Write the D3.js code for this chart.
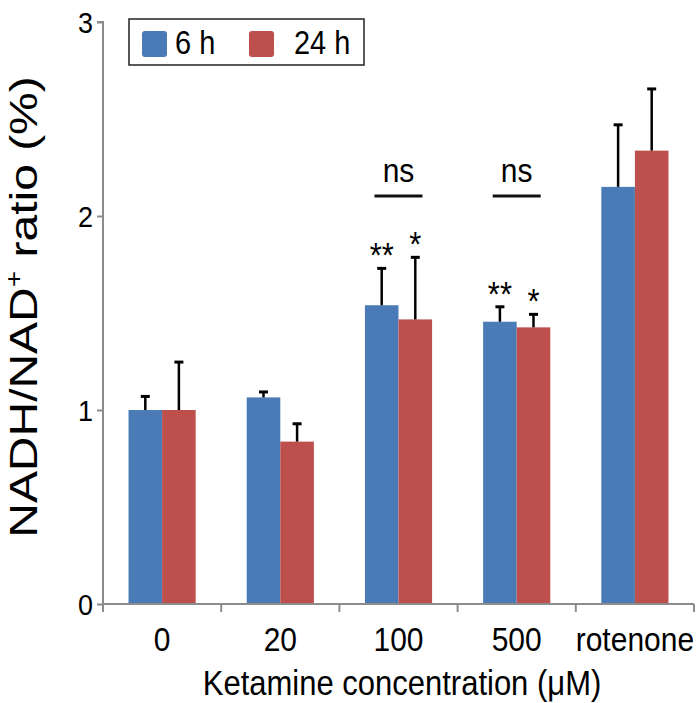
<!DOCTYPE html>
<html>
<head>
<meta charset="utf-8">
<script src="https://cdn.jsdelivr.net/npm/d3@7"></script>
<style>
  html, body { margin: 0; padding: 0; background: #fff; }
  svg text { font-family: "Liberation Sans", Arial, sans-serif; fill: #000; }
</style>
</head>
<body>
<svg id="chart" width="700" height="703"></svg>
<script>
const categories = ["0", "20", "100", "500", "rotenone"];
const seriesNames = ["6 h", "24 h"];
const values6h = [1.00, 1.065, 1.54, 1.455, 2.15];
const errors6h = [0.07, 0.028, 0.19, 0.077, 0.32];
const values24h = [1.00, 0.837, 1.467, 1.426, 2.337];
const errors24h = [0.247, 0.092, 0.32, 0.067, 0.318];
const yTicks = [0, 1, 2, 3];
const stars6h = ["", "", "**", "**", ""];
const stars24h = ["", "", "*", "*", ""];
const nsGroups = ["100", "500"];
const colors = ["#4a7bb7", "#bd4f4c"];

const svg = d3.select("#chart");
const x0 = 103, x1 = 694, yBottom = 604, yTop = 22;
const SY = 1.12; // vertical stretch of glyphs

const x = d3.scaleBand().domain(categories).range([x0, x1]).paddingInner(0).paddingOuter(0);
const xs = d3.scaleBand().domain(seriesNames).range([0, x.bandwidth()]).paddingInner(0).paddingOuter(0.76);
const y = d3.scaleLinear().domain([0, 3]).range([yBottom, yTop]);

function stext(px, py, size, str, anchor) {
  return svg.append("text")
    .attr("transform", `translate(${px},${py}) scale(1,${SY})`)
    .attr("text-anchor", anchor || "middle").attr("font-size", size).text(str);
}

const series = [
  { name: seriesNames[0], vals: values6h, errs: errors6h, stars: stars6h, color: colors[0] },
  { name: seriesNames[1], vals: values24h, errs: errors24h, stars: stars24h, color: colors[1] }
];

// bars
series.forEach(s => {
  svg.append("g").selectAll("rect").data(categories).join("rect")
    .attr("x", d => x(d) + xs(s.name))
    .attr("width", xs.bandwidth())
    .attr("y", (d, i) => y(s.vals[i]))
    .attr("height", (d, i) => y(0) - y(s.vals[i]))
    .attr("fill", s.color);
});

// error bars (upper only) and significance stars
series.forEach(s => {
  const g = svg.append("g").attr("stroke", "#000").attr("stroke-width", 2.5);
  categories.forEach((c, i) => {
    const cx = x(c) + xs(s.name) + xs.bandwidth() / 2;
    const top = y(s.vals[i] + s.errs[i]);
    g.append("line").attr("x1", cx).attr("x2", cx).attr("y1", y(s.vals[i])).attr("y2", top);
    g.append("line").attr("x1", cx - 4.5).attr("x2", cx + 4.5).attr("y1", top).attr("y2", top).attr("stroke-width", 3);
    if (s.stars[i]) stext(cx, top - 1, 31, s.stars[i]);
  });
});

// ns brackets
nsGroups.forEach(c => {
  const cx = x(c) + x.bandwidth() / 2;
  svg.append("line").attr("x1", cx - 24).attr("x2", cx + 24).attr("y1", 196).attr("y2", 196)
    .attr("stroke", "#111").attr("stroke-width", 3);
  stext(cx, 182, 30, "ns");
});

// axes
const axisColor = "#8c8c8c";
const yAxis = svg.append("g").attr("transform", `translate(${x0},0)`)
  .call(d3.axisLeft(y).tickValues(yTicks).tickSize(6).tickFormat(d3.format("d")));
yAxis.select(".domain").attr("stroke", axisColor).attr("stroke-width", 2).attr("d", `M-6,${yTop}H0V${yBottom}`);
yAxis.selectAll(".tick line").attr("stroke", axisColor).attr("stroke-width", 2);
yAxis.selectAll(".tick text").attr("font-size", 27).attr("x", -10).attr("dy", "0.35em")
  .attr("transform", `scale(1,${SY})`)
  .style("font-family", "'Liberation Sans', Arial, sans-serif").attr("fill", "#000");

const xAxis = svg.append("g").attr("transform", `translate(0,${yBottom})`)
  .call(d3.axisBottom(x).tickSize(0).tickPadding(0));
xAxis.select(".domain").attr("stroke", axisColor).attr("stroke-width", 2).attr("d", `M${x0},0H${x1}`);
xAxis.selectAll(".tick text").attr("font-size", 30).attr("y", 47 / SY).attr("dy", 0)
  .attr("transform", `scale(1,${SY})`)
  .style("font-family", "'Liberation Sans', Arial, sans-serif").attr("fill", "#000");
const bounds = categories.map(c => x(c)).concat([x1]);
xAxis.append("g").selectAll("line").data(bounds).join("line")
  .attr("x1", d => d).attr("x2", d => d).attr("y1", 0).attr("y2", 8)
  .attr("stroke", axisColor).attr("stroke-width", 2);

// axis titles
stext(402, 695, 31, "Ketamine concentration (μM)");

const yl = svg.append("text").attr("transform", "translate(37,307) rotate(-90) scale(1.23,1)")
  .attr("text-anchor", "middle").attr("font-size", 39);
yl.append("tspan").text("NADH/NAD");
yl.append("tspan").attr("font-size", 23).attr("dy", -15).text("+");
yl.append("tspan").attr("dy", 15).text(" ratio (%)");

// legend
const lg = svg.append("g");
lg.append("rect").attr("x", 129).attr("y", 19).attr("width", 235).attr("height", 46)
  .attr("fill", "#fff").attr("stroke", "#222").attr("stroke-width", 1.5);
const legendX = [142, 249];
const legendTX = [175, 294];
series.forEach((s, i) => {
  lg.append("rect").attr("x", legendX[i]).attr("y", 31).attr("width", 25).attr("height", 26)
    .attr("rx", 3).attr("fill", s.color);
  lg.append("text").attr("transform", `translate(${legendTX[i]},54) scale(1,${SY})`)
    .attr("font-size", 29).text(s.name);
});
</script>
</body>
</html>
